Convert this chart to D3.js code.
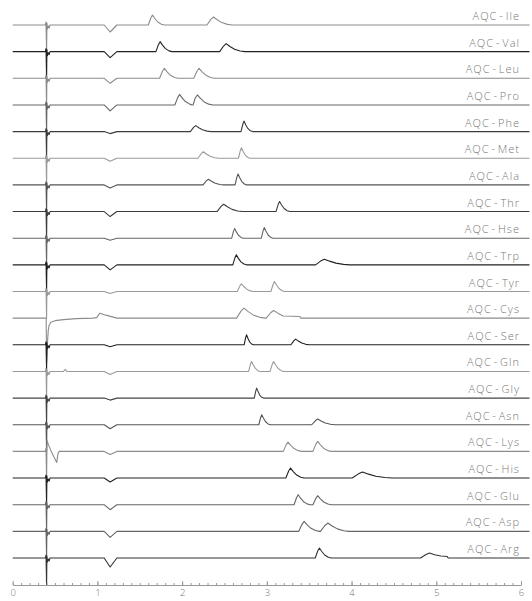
<!DOCTYPE html>
<html>
<head>
<meta charset="utf-8">
<script src="https://cdn.jsdelivr.net/npm/d3@7"></script>
<style>
  body { margin: 0; background: #fff; }
  .label { font-family: "Open Sans", sans-serif; font-weight: 300; font-size: 11px; fill: #777; letter-spacing: 1px; word-spacing: -2px; }
  .axis text { font-family: "Open Sans", sans-serif; font-weight: 300; font-size: 9.5px; fill: #777; }
  .axis path, .axis line { stroke: #999; }
  .trace { fill: none; stroke-width: 1.1; stroke-linejoin: round; }
</style>
</head>
<body>
<script>
// one trace per AQC derivative, top to bottom
var rowNames = ["Ile","Val","Leu","Pro","Phe","Met","Ala","Thr","Hse","Trp","Tyr",
                "Cys","Ser","Gln","Gly","Asn","Lys","His","Glu","Asp","Arg"];
var rowColors = ["#8c8c8c","#222","#8c8c8c","#666","#3c3c3c","#9a9a9a","#555",
                 "#3c3c3c","#666","#222","#9a9a9a","#8c8c8c","#222","#9a9a9a",
                 "#444","#555","#8c8c8c","#222","#666","#666","#333"];
// retention times (min) of the peaks, their heights and widths
var peakTimes = [[1.65,2.37],[1.74,2.52],[1.79,2.20],[1.97,2.18],[2.16,2.73],[2.25,2.70],
                 [2.31,2.66],[2.49,3.15],[2.62,2.97],[2.64,3.68],[2.70,3.09],[2.73,3.08],
                 [2.76,3.34],[2.82,3.08],[2.88],[2.94,3.60],[3.25,3.60],[3.28,4.13],
                 [3.37,3.60],[3.44,3.72],[3.62,4.92]];
var peakHeights = [[10,8],[10,8],[10,10],[10.5,10],[6,10.5],[6.5,10.5],[5.7,11],[7.3,10],
                   [9.7,10.7],[10,5.7],[7.7,10],[10,7.7],[10,5.7],[10,10],[10],[10,5.7],
                   [9.3,10],[10,6],[10,9],[10,8.3],[10,5]];
var peakWidths = [[0.14,0.22],[0.14,0.22],[0.16,0.18],[0.16,0.18],[0.18,0.1],[0.18,0.1],
                  [0.18,0.1],[0.22,0.12],[0.1,0.1],[0.12,0.3],[0.14,0.12],[0.25,0.25],
                  [0.08,0.16],[0.1,0.12],[0.08],[0.1,0.2],[0.16,0.16],[0.16,0.35],
                  [0.14,0.16],[0.18,0.25],[0.14,0.3]];
// flat shelves after a peak: [row, level, end time]
var shelves = [["Cys",1.7,3.39],["Arg",1.5,5.13]];
// negative dip near 1.15 min
var dipDepths = [7,6,5,6,2,3,3,5,2,5,2,0,2,3,2,4,3,4,5,6,9];
// injection spike near 0.4 min
var spikeDepths = [27,27,27,27,27,27,27,27,27,27,27,45,27,27,27,27,27,27,27,27,27];
var cysStart = [[0.405,-38],[0.412,-22],[0.42,-12],[0.43,-7],[0.45,-4],[0.5,-2.5],
                [0.6,-1.5],[0.75,-0.5],[0.95,0],[0.99,0.5],[1.03,5],[1.1,3],[1.23,0]];
var lysStart = [[0.405,11],[0.42,7],[0.45,1],[0.49,-6],[0.52,-11],[0.535,-2],[0.55,0]];
var glnBump = [[0.6,0],[0.62,2],[0.64,0]];
var xTicks = [0,1,2,3,4,5,6];

var width = 532, height = 601;
var svg = d3.select("body").append("svg")
  .attr("width", width).attr("height", height);

var x = d3.scaleLinear().domain([0, 6]).range([12.7, 521]);
var row = d3.scalePoint().domain(rowNames).range([25, 558]);
var sig = d3.scaleLinear().domain([0, 10]).range([0, 10]);

function tracePoints(i) {
  var name = rowNames[i];
  var pts = [[0, 0], [0.385, 0]];
  if (name === "Cys") {
    pts.push([0.395, 0], [0.4, -spikeDepths[i]]);
    cysStart.forEach(function(p) { pts.push(p); });
  } else {
    pts.push([0.393, 3], [0.4, -spikeDepths[i]]);
    if (name === "Lys") {
      lysStart.forEach(function(p) { pts.push(p); });
    } else {
      pts.push([0.404, 2], [0.41, -4], [0.42, -1], [0.43, -3], [0.44, 0]);
    }
    if (dipDepths[i] > 0) pts.push([1.08, 0], [1.15, -dipDepths[i]], [1.23, 0]);
  }
  if (name === "Gln") glnBump.forEach(function(p) { pts.push(p); });
  peakTimes[i].forEach(function(rt, k) {
    var h = peakHeights[i][k], w = peakWidths[i][k], r = w * 0.35;
    var shelf = shelves.filter(function(s) { return s[0] === name && k === peakTimes[i].length - 1; })[0];
    pts.push([rt - r, 0], [rt - r * 0.4, h * 0.7], [rt, h], [rt + w * 0.2, h * 0.65]);
    if (shelf) {
      pts.push([rt + w * 0.45, shelf[1] + 0.5], [shelf[2], shelf[1]], [shelf[2] + 0.01, 0]);
    } else {
      pts.push([rt + w * 0.45, h * 0.3], [rt + w * 0.75, h * 0.08], [rt + w, 0]);
    }
  });
  pts.push([6.1, 0]);
  return pts.sort(function(a, b) { return a[0] - b[0]; });
}

var g = svg.append("g");
rowNames.forEach(function(name, i) {
  var line = d3.line()
    .x(function(d) { return x(d[0]); })
    .y(function(d) { return row(name) - sig(d[1]); });
  g.append("path")
    .attr("class", "trace")
    .attr("stroke", rowColors[i])
    .attr("d", line(tracePoints(i)));
  g.append("text")
    .attr("class", "label")
    .attr("x", 520)
    .attr("y", row(name) - 5)
    .attr("text-anchor", "end")
    .text("AQC - " + name);
});

// time axis: minor ticks every 0.1 min, labels on whole minutes
var axisY = 585;
svg.append("g")
  .attr("class", "axis")
  .attr("transform", "translate(0," + axisY + ")")
  .call(d3.axisBottom(x).tickValues(d3.range(0, 6.01, 0.1)).tickSize(-2).tickFormat(""))
  .call(function(a) { a.select(".domain").remove(); });
svg.append("g")
  .attr("class", "axis")
  .attr("transform", "translate(0," + axisY + ")")
  .call(d3.axisBottom(x).tickValues(xTicks).tickSize(-4).tickSizeOuter(0).tickPadding(4)
    .tickFormat(d3.format("d")));
</script>
</body>
</html>
